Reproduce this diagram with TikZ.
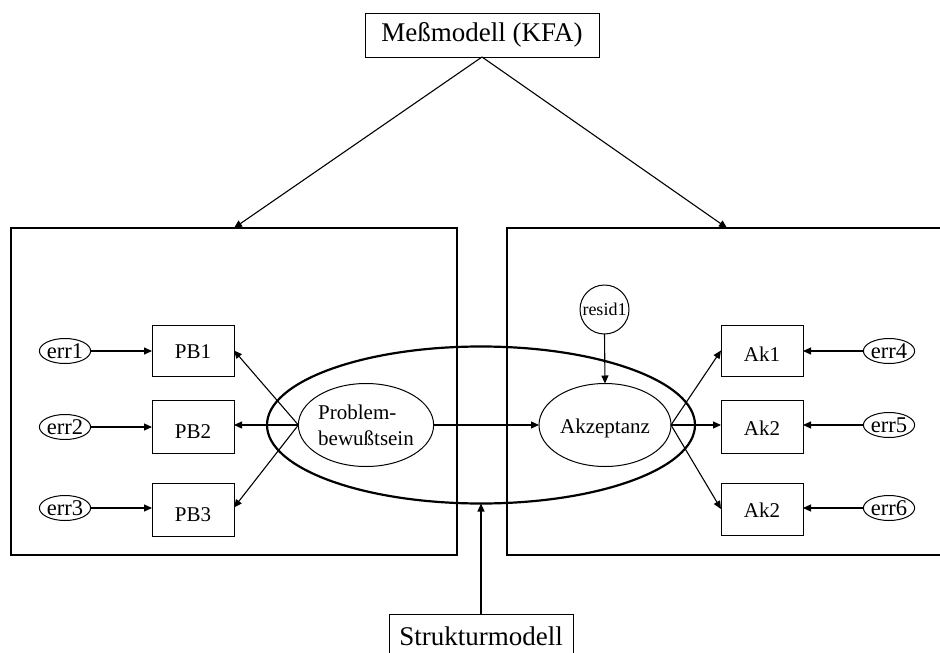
\documentclass[tikz,border=0pt]{standalone}
\usepackage{fontspec}
\setmainfont{Liberation Serif}
\usetikzlibrary{shapes.geometric,arrows.meta}

% lower the printed text without changing the box size seen by the node
\newcommand{\lowered}[2]{\raisebox{-#1}[\height][\depth]{#2}}

\tikzset{
  every node/.style={inner sep=0pt, outer sep=0pt},
  lbl/.style={font=\fontsize{21}{26}\selectfont},
  title/.style={draw, line width=1pt, rectangle, font=\fontsize{27}{30}\selectfont},
  panel/.style={draw, line width=2pt, rectangle, minimum width=#1, minimum height=327pt},
  itembox/.style={draw, line width=1pt, rectangle, minimum width=82pt, minimum height=51pt, lbl},
  errnode/.style={draw, line width=1pt, ellipse, minimum width=42pt, minimum height=25pt, font=\fontsize{22.5}{24}\selectfont},
  latent/.style={draw, line width=1pt, ellipse, minimum width=132pt, minimum height=83pt, lbl},
  conn/.style={line width=1.1pt, -{Triangle[length=8pt,width=7pt]}}
}

\begin{document}
\begin{tikzpicture}[x=1pt, y=-1pt]
\useasboundingbox (0,0) rectangle (940,653);

% headings
\node[title, minimum width=234pt, minimum height=44pt] (mess) at (482,35) {Meßmodell (KFA)};
\node[title, minimum width=184pt, minimum height=44pt] (struk) at (481,636) {Strukturmodell};

% measurement panels
\node[panel=446pt] (lbox) at (234,391.5) {};
\node[panel=440pt] (rbox) at (727,391.5) {};

% structural part
\node[draw, line width=2.2pt, ellipse, minimum width=428pt, minimum height=157pt] (big) at (481,425) {};
\node[latent, align=left] (prob) at (366,425) {Problem-\\bewußtsein};
\node[latent] (akz) at (605,425) {\lowered{3pt}{Akzeptanz}};
\node[draw, line width=1pt, circle, minimum size=49pt, font=\fontsize{18}{20}\selectfont] (resid) at (604.5,309.5) {resid1};

% indicators, left
\node[itembox] (pb1) at (193,350.5) {\lowered{1.5pt}{PB1}};
\node[itembox, minimum height=53pt] (pb2) at (193,426.5) {\lowered{5pt}{PB2}};
\node[itembox, minimum height=53pt] (pb3) at (193,509.5) {\lowered{5pt}{PB3}};
\node[errnode] (e1) at (65,351) {err1};
\node[errnode] (e2) at (65,427) {err2};
\node[errnode] (e3) at (65,508) {err3};

% indicators, right
\node[itembox] (ak1) at (762,350.5) {\lowered{4pt}{Ak1}};
\node[itembox, minimum height=53pt] (ak2) at (762,426.5) {\lowered{2pt}{Ak2}};
\node[itembox, minimum height=52pt] (ak3) at (762,509) {\lowered{1pt}{Ak2}};
\node[errnode] (e4) at (889,351) {err4};
\node[errnode] (e5) at (889,425) {err5};
\node[errnode] (e6) at (889,508) {err6};

% connectors
\draw[conn] (mess.south) -- (lbox.north);
\draw[conn] (mess.south) -- (rbox.north);
\draw[conn] (struk.north) -- (big.south);

\draw[conn] (e1.east) -- (pb1.west |- e1.east);
\draw[conn] (e2.east) -- (pb2.west |- e2.east);
\draw[conn] (e3.east) -- (pb3.west |- e3.east);

\draw[conn] (prob.west) -- (pb1.east);
\draw[conn] (prob.west) -- (pb2.east |- prob.west);
\draw[conn] (prob.west) -- ([yshift=2pt]pb3.east);

\draw[conn] (prob.east) -- (akz.west);
\draw[conn] (resid.south) -- (akz.north);

\draw[conn] (akz.east) -- (ak1.west);
\draw[conn] (akz.east) -- (ak2.west |- akz.east);
\draw[conn] (akz.east) -- (ak3.west);

\draw[conn] (e4.west) -- (ak1.east |- e4.west);
\draw[conn] (e5.west) -- (ak2.east |- e5.west);
\draw[conn] (e6.west) -- (ak3.east |- e6.west);
\end{tikzpicture}
\end{document}
